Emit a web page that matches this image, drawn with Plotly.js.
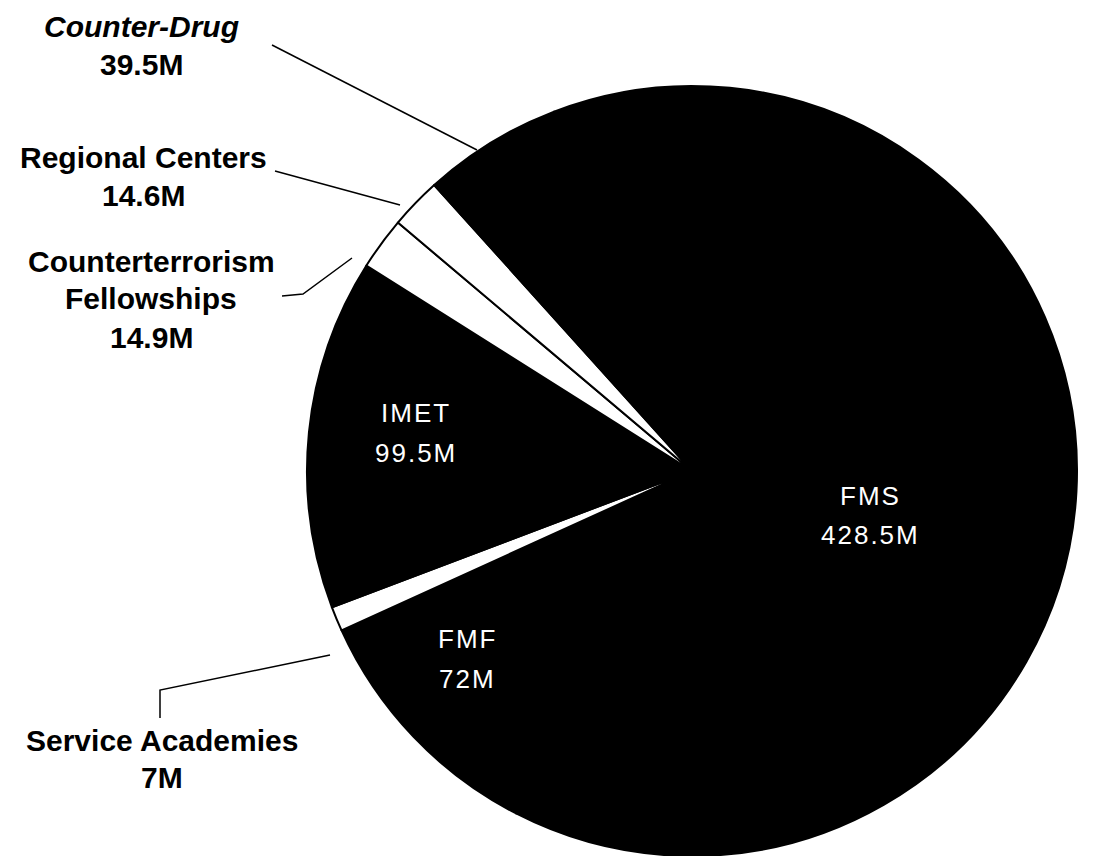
<!DOCTYPE html>
<html>
<head>
<meta charset="utf-8">
<script src="https://cdn.plot.ly/plotly-3.0.1.min.js"></script>
<style>
  html, body { margin: 0; padding: 0; background: #fff; }
  #chart { width: 1099px; height: 856px; }
</style>
</head>
<body>
<div id="chart"></div>
<script>
// ---- data (clockwise order, starting with FMS) ----
var labels = ['FMS', 'FMF', 'Service Academies', 'IMET', 'Counterterrorism Fellowships', 'Regional Centers', 'Counter-Drug'];
var values = [428.5, 72, 7, 99.5, 14.9, 14.6, 39.5];
var sliceColors = ['#000000', '#000000', '#ffffff', '#000000', '#ffffff', '#ffffff', '#000000'];
var unit = 'M';

// ---- layout helpers ----
var W = 1099, H = 856;
function px(x) { return x / W; }
function py(y) { return 1 - y / H; }

// label placement (pixel centres of each text line), keyed by category
var insideNames = ['FMS', 'FMF', 'IMET'];
var labelPos = {
  'Counter-Drug':                 {x: 141, lines: [26, 65]},
  'Regional Centers':             {x: 143, lines: [157, 195]},
  'Counterterrorism Fellowships': {x: 151, lines: [261, 298, 337]},
  'Service Academies':            {x: 162, lines: [740, 777]},
  'IMET':                         {x: 416, lines: [413, 453]},
  'FMF':                          {x: 467, lines: [639, 679]},
  'FMS':                          {x: 870, lines: [496, 535]}
};

var annotations = [];
labels.forEach(function (name, i) {
  var pos = labelPos[name];
  var nameLines = name === 'Counterterrorism Fellowships' ? ['Counterterrorism', 'Fellowships'] : [name];
  var lines = nameLines.concat([values[i] + unit]);
  var inside = insideNames.indexOf(name) >= 0;
  lines.forEach(function (txt, j) {
    var t;
    if (inside) {
      t = '<span style="letter-spacing:2px">' + txt + '</span>';
    } else if (name === 'Counter-Drug' && j === 0) {
      t = '<b><i>' + txt + '</i></b>';
    } else {
      t = '<b>' + txt + '</b>';
    }
    annotations.push({
      xref: 'paper', yref: 'paper',
      x: px(pos.x), y: py(pos.lines[j]),
      xanchor: 'center', yanchor: 'middle',
      text: t, showarrow: false,
      font: {
        family: 'Liberation Sans, Arial, sans-serif',
        size: inside ? 26 : 30,
        color: inside ? '#ffffff' : '#000000'
      }
    });
  });
});

// leader lines (pixel polylines)
var leaders = [
  [[272, 45], [477, 150]],
  [[275, 171], [400, 205]],
  [[282, 296], [303, 294], [352, 258]],
  [[160, 718], [160, 690], [330, 655]]
];
var shapes = leaders.map(function (pts) {
  var d = pts.map(function (p, k) { return (k ? 'L' : 'M') + px(p[0]) + ',' + py(p[1]); }).join(' ');
  return {type: 'path', xref: 'paper', yref: 'paper', path: d,
          line: {color: '#000000', width: 1.5}};
});

// pie geometry
var cx = 692, cy = 471, r = 385;

var trace = {
  type: 'pie',
  labels: labels,
  values: values,
  sort: false,
  direction: 'clockwise',
  rotation: -21,
  marker: {colors: sliceColors, line: {color: '#000000', width: 2}},
  textinfo: 'none',
  hoverinfo: 'skip',
  showlegend: false,
  domain: {x: [px(cx - r), px(cx + r)], y: [py(cy + r), py(cy - r)]}
};

var layout = {
  width: W, height: H,
  margin: {l: 0, r: 0, t: 0, b: 0},
  paper_bgcolor: '#ffffff',
  plot_bgcolor: '#ffffff',
  showlegend: false,
  annotations: annotations,
  shapes: shapes
};

Plotly.newPlot('chart', [trace], layout, {displayModeBar: false, staticPlot: true});
</script>
</body>
</html>
